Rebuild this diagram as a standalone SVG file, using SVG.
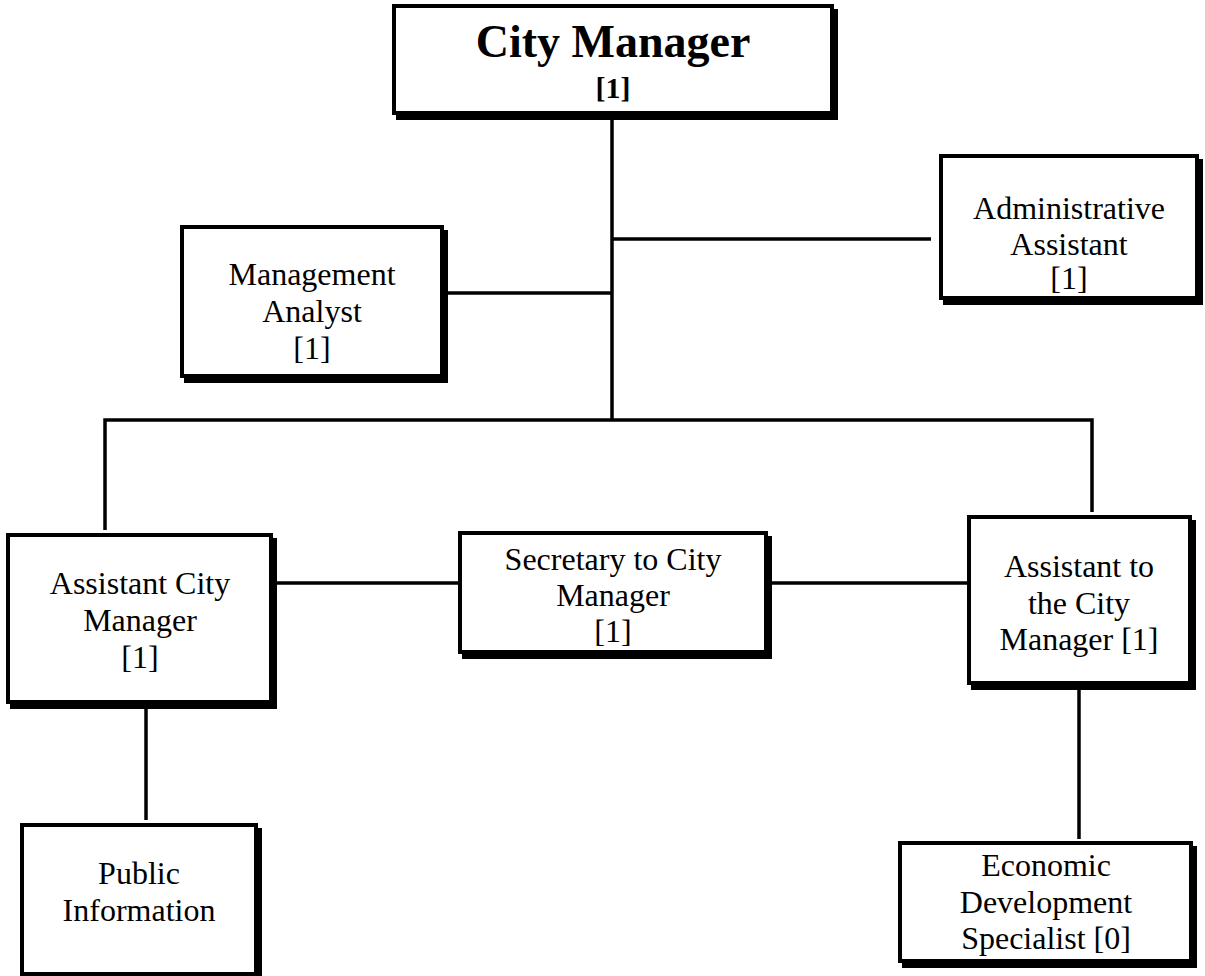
<svg xmlns="http://www.w3.org/2000/svg" width="1205" height="976" viewBox="0 0 1205 976">
<style>
.sh{fill:#000}
.bx{fill:#fff;stroke:#000;stroke-width:4}
.t{font-family:"Liberation Serif","Times New Roman",serif;font-size:32px;fill:#000;text-anchor:middle}
.tb{font-family:"Liberation Serif","Times New Roman",serif;font-weight:bold;fill:#000;text-anchor:middle}
.ln{stroke:#000;stroke-width:3.5;fill:none}
</style>
<rect width="1205" height="976" fill="#fff"/>
<g id="connectors">
<line class="ln" x1="612" y1="115" x2="612" y2="421"/>
<line class="ln" x1="612" y1="239" x2="931" y2="239"/>
<line class="ln" x1="444" y1="293" x2="612" y2="293"/>
<polyline class="ln" points="105,530 105,420 1092,420 1092,512"/>
<line class="ln" x1="277" y1="583" x2="458" y2="583"/>
<line class="ln" x1="772" y1="583" x2="967" y2="583"/>
<line class="ln" x1="146" y1="708" x2="146" y2="820"/>
<line class="ln" x1="1079" y1="690" x2="1079" y2="839"/>
</g>
<g id="city-manager">
<rect class="sh" x="396" y="9" width="442" height="111"/>
<rect class="bx" x="394" y="6" width="438" height="107"/>
<text class="tb" x="613" y="57" font-size="46">City Manager</text>
<text class="tb" x="613" y="98" font-size="30">[1]</text>
</g>
<g id="management-analyst">
<rect class="sh" x="184" y="230" width="264" height="153"/>
<rect class="bx" x="182" y="227" width="260" height="149"/>
<text class="t" x="312" y="285">Management</text>
<text class="t" x="312" y="322">Analyst</text>
<text class="t" x="312" y="359">[1]</text>
</g>
<g id="administrative-assistant">
<rect class="sh" x="943" y="159" width="260" height="146"/>
<rect class="bx" x="941" y="156" width="256" height="142"/>
<text class="t" x="1069" y="219">Administrative</text>
<text class="t" x="1069" y="255">Assistant</text>
<text class="t" x="1069" y="289">[1]</text>
</g>
<g id="assistant-city-manager">
<rect class="sh" x="10" y="538" width="267" height="171"/>
<rect class="bx" x="8" y="535" width="263" height="167"/>
<text class="t" x="140" y="594">Assistant City</text>
<text class="t" x="140" y="631">Manager</text>
<text class="t" x="140" y="668">[1]</text>
</g>
<g id="secretary">
<rect class="sh" x="462" y="536" width="310" height="123"/>
<rect class="bx" x="460" y="533" width="306" height="119"/>
<text class="t" x="613" y="570">Secretary to City</text>
<text class="t" x="613" y="606">Manager</text>
<text class="t" x="613" y="642">[1]</text>
</g>
<g id="assistant-to-city-manager">
<rect class="sh" x="971" y="520" width="225" height="170"/>
<rect class="bx" x="969" y="517" width="221" height="166"/>
<text class="t" x="1079" y="577">Assistant to</text>
<text class="t" x="1079" y="614">the City</text>
<text class="t" x="1079" y="650">Manager [1]</text>
</g>
<g id="public-information">
<rect class="sh" x="24" y="828" width="238" height="160"/>
<rect class="bx" x="22" y="825" width="234" height="149"/>
<text class="t" x="139" y="884">Public</text>
<text class="t" x="139" y="921">Information</text>
</g>
<g id="economic-development">
<rect class="sh" x="902" y="846" width="295" height="122"/>
<rect class="bx" x="900" y="843" width="291" height="118"/>
<text class="t" x="1046" y="876">Economic</text>
<text class="t" x="1046" y="913">Development</text>
<text class="t" x="1046" y="949">Specialist [0]</text>
</g>
</svg>
